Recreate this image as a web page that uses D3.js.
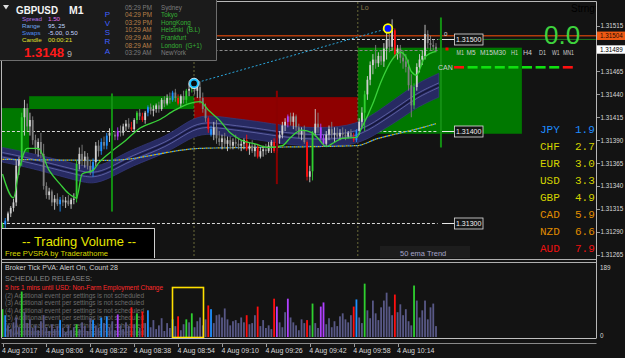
<!DOCTYPE html>
<html>
<head>
<meta charset="UTF-8"/>
<script src="https://d3js.org/d3.v7.min.js"></script>
<title>GBPUSD M1</title>
<style>
body { margin:0; background:#131313; overflow:hidden; }
svg { display:block; font-family:'Liberation Sans', Arial, sans-serif; }
.axis text { fill:#d8d8d8; }
.axis line { stroke:#9a9a9a; shape-rendering:crispEdges; }
.axis path { display:none; }
</style>
</head>
<body>
<svg id='chart' width=625 height=358></svg>
<script>
'use strict';

// prices are kept as points above 1.31000 (489 -> 1.31489)
var BASE = 1.31;

// M1 bars from 07:50, [open, high, low, close]
var candles = [
[288,300,285,298],[298,305,292,302],[302,312,300,310],[310,318,306,316],[316,326,312,322],
[322,368,318,362],[362,372,352,368],[368,420,362,415],[415,434,395,425],[425,430,400,405],
[405,420,395,412],[412,416,385,390],[390,396,375,380],[380,392,372,388],[388,398,370,375],
[375,386,336,340],[340,344,326,330],[330,338,325,334],[334,336,318,322],[322,330,314,326],
[326,332,318,320],[320,328,312,325],[325,330,318,322],[322,328,316,324],[324,330,318,320],
[320,327,315,325],[325,332,320,326],[326,368,322,364],[364,382,358,375],[375,385,362,368],
[368,378,360,372],[372,376,358,362],[362,368,352,356],[356,370,350,366],[366,388,362,384],
[384,390,372,378],[378,392,374,388],[388,394,380,384],[384,398,380,395],[395,403,388,398],
[398,402,392,396],[396,400,390,394],[394,404,390,400],[400,406,394,398],[398,408,395,405],
[405,412,400,408],[408,414,402,404],[404,410,400,402],[402,414,400,412],[412,422,408,420],
[420,424,412,416],[416,420,410,412],[412,422,408,420],[420,428,416,426],[426,430,418,422],
[422,428,416,424],[424,430,420,428],[428,432,420,424],[424,436,422,434],[434,438,426,430],
[430,440,428,436],[436,442,430,434],[434,444,432,442],[442,446,432,436],[436,440,428,430],
[430,440,426,438],[438,444,430,434],[434,446,430,444],[444,452,438,446],[446,456,442,452],
[452,458,440,444],[444,452,436,448],[448,454,430,436],[436,442,420,424],[424,430,410,414],
[414,416,398,402],[402,406,394,396],[396,410,390,404],[404,412,386,392],[392,400,384,388],
[388,396,380,392],[392,398,382,386],[386,394,378,390],[390,394,380,384],[384,392,380,388],
[388,396,382,386],[386,392,380,384],[384,390,378,386],[386,392,380,390],[390,396,378,380],
[380,388,374,384],[384,390,376,378],[378,386,372,382],[382,386,370,372],[372,382,370,378],
[378,384,372,380],[380,386,374,378],[378,388,376,384],[384,390,376,388],[388,392,376,378],
[378,396,376,392],[392,400,386,396],[396,410,392,406],[406,414,400,410],[410,418,404,416],
[416,420,406,410],[410,420,402,416],[416,418,400,404],[404,408,392,396],[396,404,390,400],
[400,406,386,388],[388,390,346,350],[350,362,344,356],[356,400,346,398],[398,424,394,408],
[408,420,398,404],[404,408,388,392],[392,396,384,386],[386,400,384,396],[396,406,390,402],
[402,410,392,396],[396,404,388,398],[398,404,392,394],[394,402,390,398],[398,404,392,396],
[396,402,390,394],[394,400,392,398],[398,402,392,394],[394,398,388,390],[390,402,388,400],
[400,414,396,410],[410,426,404,420],[420,444,400,440],[440,460,434,456],[456,476,450,472],
[472,484,462,478],[478,494,468,474],[474,486,470,482],[482,488,472,476],[476,496,470,490],
[490,508,478,500],[500,506,486,492],[492,522,488,510],[510,512,480,484],[484,494,478,490],
[490,494,474,480],[480,488,468,476],[476,484,464,470],[470,478,444,450],[450,462,415,428],
[428,452,424,448],[448,474,444,470],[470,484,464,478],[478,488,472,482],[482,516,478,506],
[506,510,490,496],[496,504,488,494],[494,500,488,492],[492,496,486,489]
];

// PVSRA coloured bars [bar, kind]
var pvsra = [[0,'G'],[1,'B'],[7,'G'],[21,'B'],[27,'G'],[33,'B'],[36,'B'],[38,'B'],[42,'P'],
[47,'R'],[49,'G'],[51,'R'],[53,'B'],[62,'B'],[64,'R'],[67,'G'],[69,'G'],[75,'R'],[76,'B'],
[89,'R'],[93,'R'],[99,'R'],[100,'P'],[104,'P'],[111,'R'],[113,'G'],[116,'P'],[117,'P'],
[128,'R'],[129,'B'],[132,'G'],[143,'R'],[150,'G']];

// tick volume per bar
var volumes = [
74,58,31,21,39,52,26,121,66,37, 47,24,31,18,42,58,26,16,34,21,
29,45,24,13,31,18,26,34,21,39, 29,16,50,45,31,24,52,37,55,26,
42,18,60,31,21,39,29,79,34,63, 24,68,37,71,26,45,21,31,50,16,
37,24,47,29,55,18,34,47,39,63, 26,42,52,31,47,84,74,37,58,60,
52,76,47,31,42,45,37,52,39,58, 34,37,58,81,29,45,24,31,21,102,
81,39,26,66,102,52,39,31,18,47, 37,45,31,89,37,24,81,92,34,50,
26,42,29,55,63,47,39,58,81,100, 52,37,142,71,50,97,63,45,79,97,
118,81,58,113,66,87,58,74,42,31, 137,97,52,71,97,47,79,89,29
];
var volMax = 189;

// ema channel [bar, mid, half width]
var band = [[0,374,8],[10,368,8],[28,354,9],[33,351,9],[39,357,9],[47,371,9],[60,385,9],
[68,402,10],[74,408,10],[83,404,10],[92,401,10],[104,395,10],[116,393,10],[129,395,11],
[138,412,12],[145,426,13],[151,439,13],[159,450,13]];

// fast average [bar, price]
var fastMa = [[0,353],[4,327],[6,357],[9,381],[13,381],[17,357],[21,342],[24,332],[27,327],
[29,353],[33,357],[35,365],[39,376],[45,390],[50,403],[57,412],[63,423],[68,430],[72,432],
[75,423],[79,412],[83,398],[87,390],[92,386],[97,382],[102,384],[105,393],[109,401],
[113,398],[115,392],[118,383],[120,386],[124,392],[129,393],[131,404],[135,430],[138,454],
[142,478],[145,486],[147,481],[149,465],[151,461],[152,467],[154,481],[158,487]];

// slow average [bar, price]
var slowMa = [[0,369],[39,368],[72,381],[90,382],[129,384],[137,392],[141,395],[152,403],[158,408]];

// supply / demand zones [fromBar, toBar, top, bottom, side]
var zones = [[-0.2,9.7,425,375,'buy'],[9.7,69.8,438,424,'buy'],[69.8,129.5,437,397,'sell'],
[129.5,189.3,491,397,'buy']];

// vertical markers [bar, top, bottom, side]
var vMarks = [[39.9,441,312,'buy'],[159.8,524,382,'buy'],[100,444,342,'sell']];
var sessionBars = [69.8, 129.5];

// dashed price levels [price, fromBar, toBar]
var levels = [[500,-0.2,158.6],[489,70,158.6],[400,-0.2,70],[400,137,158.6],[300,-0.2,158.6]];
var levelLabels = [500, 400, 300];
var lastPrice = 504, bidPrice = 489;

var swingPts = [[69.8,452],[140.5,512]];

var priceTicks = [265,290,315,340,365,390,415,440,465,515];
var timeTicks = ['07:50','08:06','08:22','08:38','08:54','09:10','09:26','09:42','09:58','10:14'];
var timeLabels = ['4 Aug 2017','4 Aug 08:06','4 Aug 08:22','4 Aug 08:38','4 Aug 08:54',
'4 Aug 09:10','4 Aug 09:26','4 Aug 09:42','4 Aug 09:58','4 Aug 10:14'];

var tfLabels = ['M1','M5','M15','M30','H1','H4','D1','W1','MN1'];
var canSignals = [-1,1,1,1,1,1,1,1,-1];

var currencies = ['JPY','CHF','EUR','USD','GBP','CAD','NZD','AUD'];
var strengths = [1.9,2.7,3.0,3.3,4.9,5.9,6.6,7.9];

var infoLabels = ['Spread','Range','Swaps','Candle'];
var infoValues = ['1.50','95, 25','-5.00, 0.50','00:00:21'];
var cityTimes = ['05:29 PM','04:29 PM','03:29 PM','10:29 AM','09:29 AM','08:29 AM','03:29 AM'];
var cities = ['Sydney','Tokyo','HongKong','Helsinki  (B.L)','Frankfurt','London  (G+1)','NewYork'];

var releaseNotes = [
'5 hrs 1 mins until USD: Non-Farm Employment Change',
'(2)   Additional event per settings is not scheduled',
'(3)   Additional event per settings is not scheduled',
'(4)   Additional event per settings is not scheduled',
'(5)   Additional event per settings is not scheduled',
'(6)   Additional event per settings is not scheduled',
'(7)   Additional event per settings is not scheduled'];

// ---------------------------------------------------------------

var svg = d3.select('#chart');
svg.append('rect').attr('width',625).attr('height',358).attr('fill','#131313');

var defs = svg.append('defs');
defs.append('clipPath').attr('id','mainClip').append('rect')
	.attr('x',2).attr('y',2).attr('width',594).attr('height',256);
defs.append('clipPath').attr('id','subClip').append('rect')
	.attr('x',2).attr('y',263).attr('width',594).attr('height',75);

var xb = d3.scaleLinear().domain([0,158]).range([2.5,436]);
var parseT = d3.timeParse('%Y-%m-%d %H:%M');
var xt = d3.scaleTime()
	.domain([parseT('2017-08-04 07:50'), parseT('2017-08-04 10:28')])
	.range([2.5,436]);
var y = d3.scaleLinear().domain([261.3,540.9]).range([258,2]);
var yv = d3.scaleLinear().domain([0,volMax]).range([337,266]);

var kindColor = {G:'#2fd02f', R:'#ff1010', B:'#1e90ff', P:'#b040ff'};
var kindOf = new Map(pvsra);
function candleColor(d,i){
	if (kindOf.has(i)) return kindColor[kindOf.get(i)];
	return d[3] >= d[0] ? '#cfcfcf' : '#808080';
}
function fmt(p){ return (BASE + p/100000).toFixed(5); }

var main = svg.append('g').attr('clip-path','url(#mainClip)');

// zones
main.selectAll('.zone').data(zones).join('rect')
	.attr('class','zone')
	.attr('x', function(d){return xb(d[0])})
	.attr('width', function(d){return xb(d[1])-xb(d[0])})
	.attr('y', function(d){return y(d[2])})
	.attr('height', function(d){return y(d[3])-y(d[2])})
	.attr('fill', function(d){return d[4]=='buy' ? '#007800' : '#8e0000'});

// session separators
main.selectAll('.sess').data(sessionBars).join('line')
	.attr('class','sess')
	.attr('x1', function(d){return xb(d)}).attr('x2', function(d){return xb(d)})
	.attr('y1', 2).attr('y2', 258)
	.attr('stroke','#6a6a3a').attr('stroke-dasharray','2 2');
main.append('text').text('Lo').attr('x', xb(sessionBars[1])+3).attr('y',10)
	.attr('font-size',7).attr('fill','#8c7c4c');

// last price line
main.append('line').attr('x1',2).attr('x2',596)
	.attr('y1',y(lastPrice)).attr('y2',y(lastPrice))
	.attr('stroke','#b23c0c').attr('stroke-width',1.6);
main.append('line').attr('x1',xb(158.6)).attr('x2',596)
	.attr('y1',y(500)).attr('y2',y(500))
	.attr('stroke','#1f8f1f').attr('stroke-width',0.8);

// dashed levels
main.selectAll('.lvl').data(levels).join('line')
	.attr('class','lvl')
	.attr('x1', function(d){return xb(d[1])}).attr('x2', function(d){return xb(d[2])})
	.attr('y1', function(d){return Math.round(y(d[0]))+0.5})
	.attr('y2', function(d){return Math.round(y(d[0]))+0.5})
	.attr('stroke', function(d){return d[0]==bidPrice ? '#8a8a8a' : '#d8d8d8'})
	.attr('stroke-dasharray','3 2');

// ema channel
var bandArea = d3.area()
	.x(function(d){return xb(d[0])})
	.y0(function(d){return y(d[1]-d[2])})
	.y1(function(d){return y(d[1]+d[2])})
	.curve(d3.curveBasis);
main.append('path').datum(band).attr('d',bandArea)
	.attr('fill','#272a62').attr('stroke','#34377a').attr('stroke-width',0.8);
[-2.5, 0, 2.5].forEach(function(off){
	main.append('path').datum(band)
		.attr('d', d3.line().x(function(d){return xb(d[0])})
			.y(function(d){return y(d[1]+off)}).curve(d3.curveBasis))
		.attr('fill','none')
		.attr('stroke', off==0 ? '#15163a' : '#7d81c8')
		.attr('stroke-width', off==0 ? 1.5 : 0.6);
});

// slow average, two-colour dots
var slowLine = d3.line().x(function(d){return xb(d[0])}).y(function(d){return y(d[1])})
	.curve(d3.curveMonotoneX);
main.append('path').datum(slowMa).attr('d',slowLine).attr('fill','none')
	.attr('stroke','#e8c000').attr('stroke-width',1.2).attr('stroke-dasharray','2 2');
main.append('path').datum(slowMa).attr('d',slowLine).attr('fill','none')
	.attr('stroke','#3aa0ff').attr('stroke-width',1.2).attr('stroke-dasharray','2 2')
	.attr('stroke-dashoffset',2);

// candles
var cg = main.append('g');
cg.selectAll('.wick').data(candles).join('line')
	.attr('class','wick')
	.attr('x1', function(d,i){return xb(i)}).attr('x2', function(d,i){return xb(i)})
	.attr('y1', function(d){return y(d[1])}).attr('y2', function(d){return y(d[2])})
	.attr('stroke', candleColor).attr('stroke-width',0.9);
cg.selectAll('.body').data(candles).join('rect')
	.attr('class','body')
	.attr('x', function(d,i){return xb(i)-0.9})
	.attr('width',1.8)
	.attr('y', function(d){return y(Math.max(d[0],d[3]))})
	.attr('height', function(d){return Math.max(1, Math.abs(y(d[0])-y(d[3])))})
	.attr('fill', candleColor);

// fast average
main.append('path').datum(fastMa)
	.attr('d', d3.line().x(function(d){return xb(d[0])}).y(function(d){return y(d[1])})
		.curve(d3.curveMonotoneX))
	.attr('fill','none').attr('stroke','#3ad23a').attr('stroke-width',1.3);

// vertical markers
main.selectAll('.vmark').data(vMarks).join('line')
	.attr('class','vmark')
	.attr('x1', function(d){return xb(d[0])}).attr('x2', function(d){return xb(d[0])})
	.attr('y1', function(d){return y(d[1])}).attr('y2', function(d){return y(d[2])})
	.attr('stroke', function(d){return d[3]=='buy' ? '#138f13' : '#8a0000'})
	.attr('stroke-width',2);

// swing line and points
main.append('line')
	.attr('x1', xb(swingPts[0][0])).attr('y1', y(swingPts[0][1]))
	.attr('x2', xb(swingPts[1][0])).attr('y2', y(swingPts[1][1]))
	.attr('stroke','#2aa6dc').attr('stroke-dasharray','2 2').attr('stroke-width',1);
main.append('circle').attr('cx', xb(swingPts[0][0])).attr('cy', y(swingPts[0][1])).attr('r',4)
	.attr('fill','#0a0a0a').attr('stroke','#18c0ff').attr('stroke-width',2.2);
main.append('circle').attr('cx', xb(swingPts[0][0])).attr('cy', y(swingPts[0][1])).attr('r',5.2)
	.attr('fill','none').attr('stroke','#e8f8ff').attr('stroke-width',0.8);
main.append('circle').attr('cx', xb(swingPts[1][0])).attr('cy', y(swingPts[1][1])).attr('r',4.3)
	.attr('fill','#0010ff').attr('stroke','#ffff00').attr('stroke-width',1.8);

// level labels
var lab = main.selectAll('.lvlLab').data(levelLabels).join('g').attr('class','lvlLab')
	.attr('transform', function(d){return 'translate(0,' + (Math.round(y(d))+0.5) + ')'});
lab.append('line').attr('x1',442).attr('x2',454.5).attr('stroke','#e8e8e8');
lab.append('rect').attr('x',454.5).attr('y',-5.5).attr('width',28.5).attr('height',11)
	.attr('fill','#151515').attr('stroke','#e0e0e0').attr('stroke-width',0.8);
lab.append('text').text(fmt).attr('x',468.7).attr('y',2.4).attr('text-anchor','middle')
	.attr('font-size',7).attr('fill','#f0f0f0');
main.append('text').text('0').attr('x',444).attr('y',y(500)-3.5)
	.attr('font-size',6).attr('fill','#e0e0e0');
main.append('rect').attr('x',445.5).attr('y',y(bidPrice)-2).attr('width',3).attr('height',3)
	.attr('fill','#ff0000');

// big signal value and timeframe row
main.append('text').text('0.0').attr('x',544).attr('y',43.5)
	.attr('font-size',26).attr('fill','#3ed23e');
main.append('text').text('Strngt').attr('x',571).attr('y',12).attr('font-size',10)
	.attr('fill','#000');
var tfX = [456.5,466.5,480,493,511,523,539,552,563];
var tfW = [7.5,9,13,13,7,9,7,7.5,11];
main.selectAll('.tf').data(tfLabels).join('text').attr('class','tf')
	.text(function(d){return d})
	.attr('x', function(d,i){return tfX[i]}).attr('y',54.5)
	.attr('font-size',6.6).attr('fill','#cfcfcf')
	.attr('textLength', function(d,i){return tfW[i]})
	.attr('lengthAdjust','spacingAndGlyphs');
main.append('text').text('CAN').attr('x',438).attr('y',70.3).attr('font-size',7)
	.attr('fill','#cfcfcf');
main.selectAll('.can').data(canSignals).join('rect').attr('class','can')
	.attr('x', function(d,i){return 454 + i*13.6}).attr('y',66)
	.attr('width',10).attr('height',2.6)
	.attr('fill', function(d){return d>0 ? '#10e010' : '#ff1010'});

// currency strength
function strengthColor(v){
	if (v < 2.5) return '#1e8cff';
	if (v < 5) return '#d2d200';
	if (v < 7) return '#e08c00';
	return '#ee1010';
}
var cs = main.selectAll('.cur').data(currencies).join('g').attr('class','cur')
	.attr('transform', function(d,i){return 'translate(0,' + (133 + i*17) + ')'});
cs.append('text').text(function(d){return d}).attr('x',540)
	.attr('font-family','Liberation Mono, monospace').attr('font-size',11)
	.attr('fill', function(d,i){return strengthColor(strengths[i])});
cs.append('text').text(function(d,i){return strengths[i].toFixed(1)}).attr('x',575)
	.attr('font-family','Liberation Mono, monospace').attr('font-size',11)
	.attr('fill', function(d,i){return strengthColor(strengths[i])});

// trading volume box
main.append('rect').attr('x',1.5).attr('y',228.5).attr('width',153).attr('height',32)
	.attr('fill','#000').attr('stroke','#d0d0d0');
main.append('text').text('-- Trading Volume --').attr('x',79).attr('y',246)
	.attr('text-anchor','middle').attr('font-size',13).attr('fill','#e6e600')
	.attr('textLength',114).attr('lengthAdjust','spacingAndGlyphs');
main.append('text').text('Free PVSRA by Traderathome').attr('x',5).attr('y',256)
	.attr('font-size',7.5).attr('fill','#d8d800')
	.attr('textLength',103).attr('lengthAdjust','spacingAndGlyphs');

main.append('rect').attr('x',380).attr('y',246).attr('width',90).attr('height',13)
	.attr('fill','#1d1d1d');
main.append('text').text('50 ema Trend').attr('x',400).attr('y',255.5)
	.attr('font-size',7.5).attr('fill','#a4a4c8');

// frame
svg.append('path').attr('d','M1.5,258V1.5H596.5V338')
	.attr('fill','none').attr('stroke','#b8b8b8');
svg.append('line').attr('x1',1.5).attr('x2',1.5).attr('y1',258).attr('y2',338)
	.attr('stroke','#b8b8b8');
svg.append('line').attr('x1',1.5).attr('x2',596.5).attr('y1',259.5).attr('y2',259.5)
	.attr('stroke','#b0b0b0');
svg.append('line').attr('x1',1.5).attr('x2',596.5).attr('y1',262.5).attr('y2',262.5)
	.attr('stroke','#b0b0b0');

// price axis
svg.append('g').attr('class','axis').attr('transform','translate(596.5,0)')
	.call(d3.axisRight(y).tickValues(priceTicks).tickFormat(fmt).tickSize(3).tickPadding(1))
	.selectAll('text').attr('font-size',6.3);
[[lastPrice,'#f05a14','#2a0a00'],[bidPrice,'#ffffff','#000']].forEach(function(m){
	svg.append('rect').attr('x',597).attr('y',y(m[0])-4.2).attr('width',28).attr('height',8.4)
		.attr('fill',m[1]);
	svg.append('text').text(fmt(m[0])).attr('x',600).attr('y',y(m[0])+2.3)
		.attr('font-size',6.3).attr('fill',m[2]);
});

// sub window
var sub = svg.append('g').attr('clip-path','url(#subClip)');
sub.append('text').text('Broker Tick PVA:   Alert On,   Count  28').attr('x',5).attr('y',270)
	.attr('font-size',6.4).attr('fill','#cfcfcf')
	.attr('textLength',113).attr('lengthAdjust','spacingAndGlyphs');
sub.append('text').text('SCHEDULED RELEASES:').attr('x',5).attr('y',280.8)
	.attr('font-size',7.4).attr('fill','#8a8a8a')
	.attr('textLength',87).attr('lengthAdjust','spacingAndGlyphs');
sub.selectAll('.note').data(releaseNotes).join('text').attr('class','note')
	.text(function(d){return d})
	.attr('x',5).attr('y', function(d,i){return i==0 ? 290 : 290 + i*7.5})
	.attr('font-size',6.4)
	.attr('fill', function(d,i){return i==0 ? '#ff2a2a' : '#6c6c6c'})
	.attr('textLength', function(d,i){return i==0 ? 158 : 139})
	.attr('lengthAdjust','spacingAndGlyphs');

sub.selectAll('.vol').data(volumes).join('rect').attr('class','vol')
	.attr('x', function(d,i){return xb(i)-0.9})
	.attr('width',1.8)
	.attr('y', function(d){return yv(d)})
	.attr('height', function(d){return yv(0)-yv(d)})
	.attr('fill', function(d,i){return kindOf.has(i) ? kindColor[kindOf.get(i)] : '#585886'});
sub.append('rect').attr('x',172.5).attr('y',287.5).attr('width',31).attr('height',50)
	.attr('fill','none').attr('stroke','#ffe000').attr('stroke-width',1.6);

svg.append('text').text(volMax).attr('x',600).attr('y',269.5).attr('font-size',6.3)
	.attr('fill','#d8d8d8');
svg.append('text').text('0').attr('x',600).attr('y',338).attr('font-size',6.3)
	.attr('fill','#d8d8d8');

// time axis
svg.append('line').attr('x1',1.5).attr('x2',596.5).attr('y1',338.5).attr('y2',338.5)
	.attr('stroke','#c0c0c0');
svg.append('line').attr('x1',1.5).attr('x2',596.5).attr('y1',343.5).attr('y2',343.5)
	.attr('stroke','#8a8a8a');
var tAxis = svg.append('g').attr('class','axis').attr('transform','translate(0,343.5)')
	.call(d3.axisBottom(xt)
		.tickValues(timeTicks.map(function(t){return parseT('2017-08-04 ' + t)}))
		.tickFormat(function(d,i){return timeLabels[i]})
		.tickSize(3).tickPadding(2));
tAxis.selectAll('text').attr('font-size',7).attr('text-anchor','start').attr('dx',-1);

// info panel
var panel = svg.append('g');
panel.append('rect').attr('width',216).attr('height',60).attr('fill','#1b1b1b');
panel.append('path').attr('d','M0,60.5H216.5V0').attr('fill','none').attr('stroke','#6e6e6e');
panel.append('path').attr('d','M3,5L9,5L6,9.5Z').attr('fill','#dddddd');
panel.append('text').text('GBPUSD').attr('x',16).attr('y',13.5).attr('font-weight','bold')
	.attr('font-size',10.5).attr('fill','#f4f4f4')
	.attr('textLength',42).attr('lengthAdjust','spacingAndGlyphs');
panel.append('text').text('M1').attr('x',69).attr('y',13.5).attr('font-weight','bold')
	.attr('font-size',10.5).attr('fill','#f4f4f4');
var labCols = ['#b070e8','#74a8ee','#4e8cf4','#e0e030'];
var valCols = ['#e070f0','#c0d8ff','#c8d4ff','#e0e030'];
panel.selectAll('.il').data(infoLabels).join('text').attr('class','il')
	.text(function(d){return d}).attr('x',22)
	.attr('y', function(d,i){return 21.2 + i*6.8})
	.attr('font-size',6.2).attr('fill', function(d,i){return labCols[i]});
panel.selectAll('.iv').data(infoValues).join('text').attr('class','iv')
	.text(function(d){return d}).attr('x',48)
	.attr('y', function(d,i){return 21.2 + i*6.8})
	.attr('font-size',6.2).attr('fill', function(d,i){return valCols[i]});
panel.append('text').text('1.3148').attr('x',24).attr('y',57).attr('font-weight','bold')
	.attr('font-size',13.5).attr('fill','#ff1a1a')
	.attr('textLength',40).attr('lengthAdjust','spacingAndGlyphs');
panel.append('text').text('9').attr('x',67).attr('y',57).attr('font-size',9)
	.attr('fill','#b0b0b0');
// vertical PVSRA title, small enough that the letters do not touch
panel.selectAll('.pv').data('PVSRA'.split('')).join('text').attr('class','pv')
	.text(function(d){return d})
	.attr('x',107.5).attr('text-anchor','middle')
	.attr('y', function(d,i){return 16.5 + i*9.3})
	.attr('font-size',8).attr('fill','#4060ff');
panel.selectAll('.ct').data(cityTimes).join('text').attr('class','ct')
	.text(function(d){return d}).attr('x',125)
	.attr('y', function(d,i){return 9.6 + i*7.6})
	.attr('font-size',6.3)
	.attr('fill', function(d,i){return (i==0 || i==6) ? '#7c7c7c' : '#b8804a'});
panel.selectAll('.cn').data(cities).join('text').attr('class','cn')
	.text(function(d){return d}).attr('x',161)
	.attr('y', function(d,i){return 9.6 + i*7.6})
	.attr('font-size',6.3).style('white-space','pre')
	.attr('fill', function(d,i){return (i==0 || i==6) ? '#7c7c7c' : '#36b036'});
</script>
</body>
</html>
